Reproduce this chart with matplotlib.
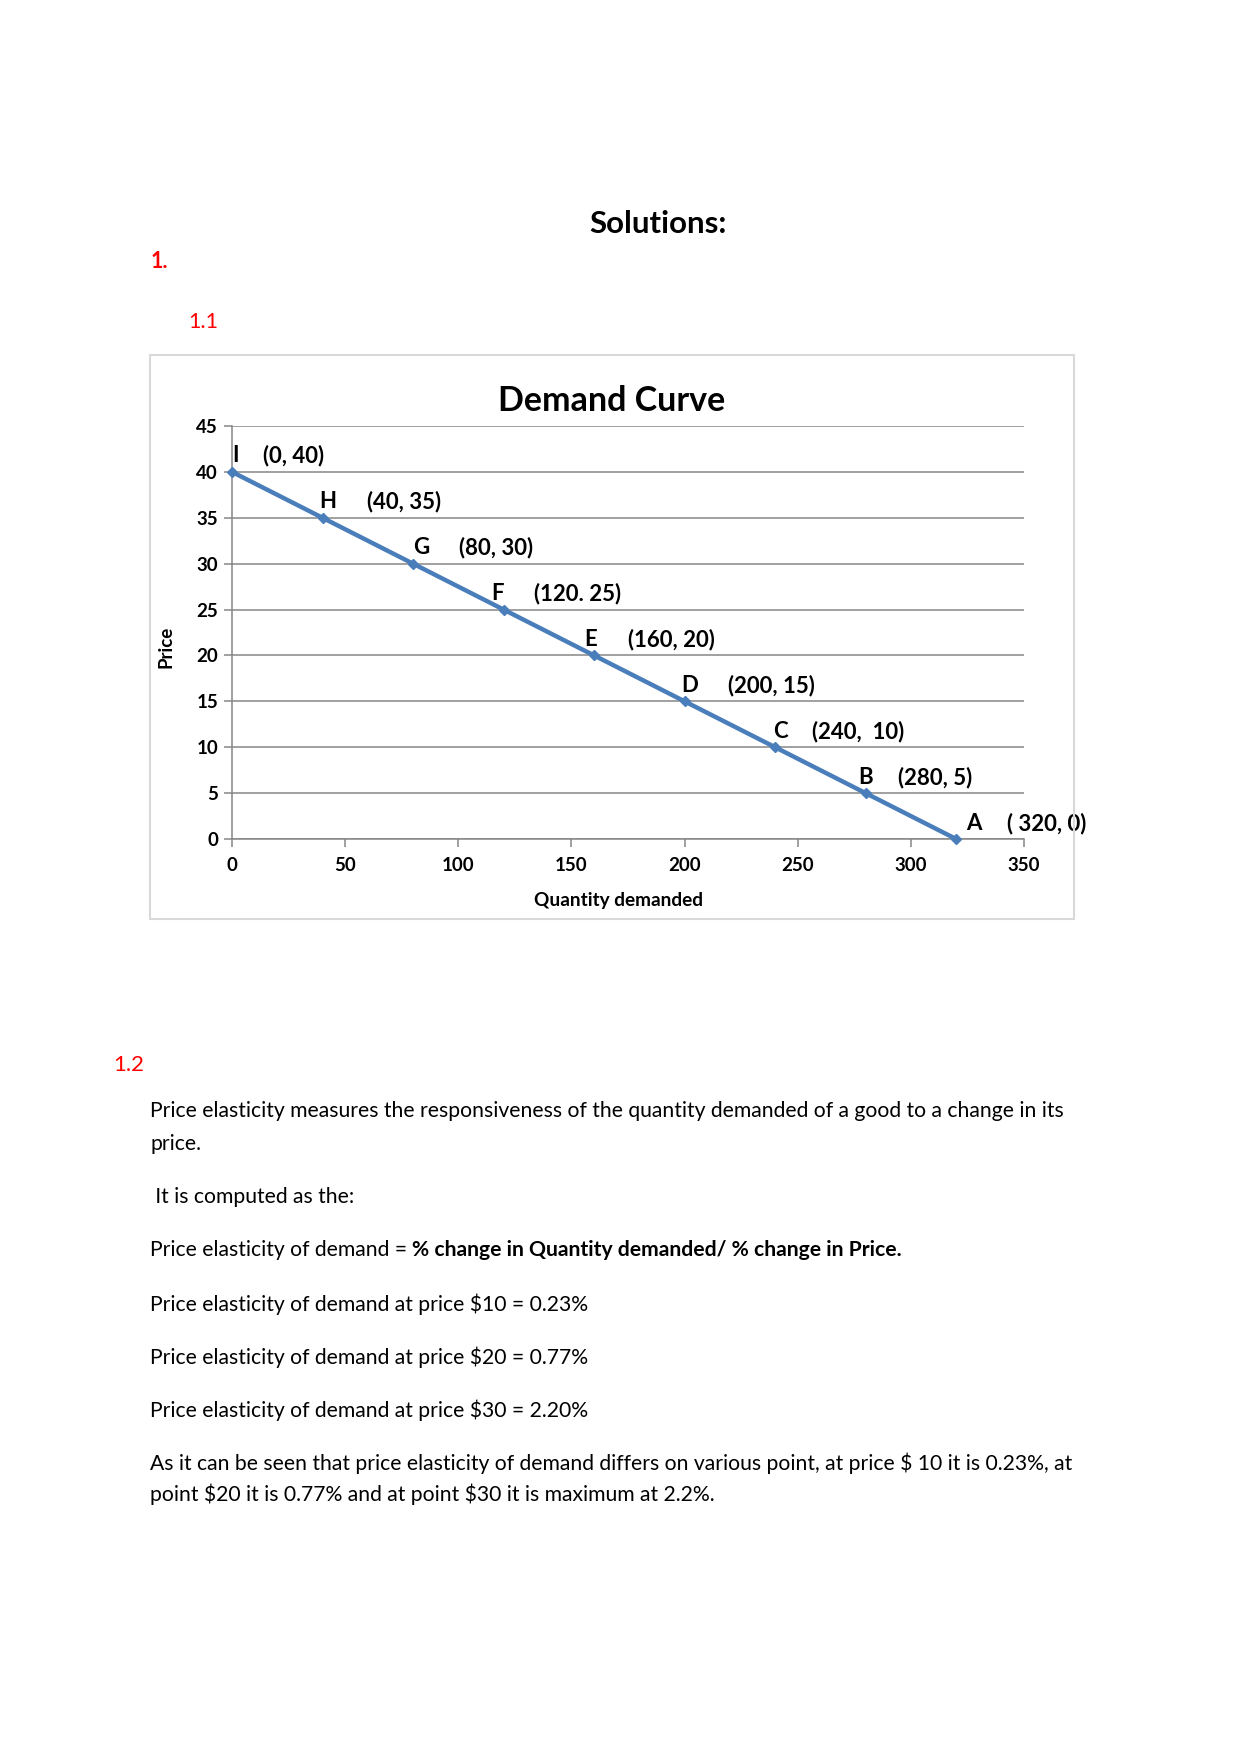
import matplotlib.pyplot as plt
from matplotlib.patches import Rectangle

plt.rcParams['font.family'] = ['Lato', 'DejaVu Sans']
plt.rcParams['text.parse_math'] = False

# demand schedule
quantity = [0, 40, 80, 120, 160, 200, 240, 280, 320]
price = [40, 35, 30, 25, 20, 15, 10, 5, 0]
point_names = ['I', 'H', 'G', 'F', 'E', 'D', 'C', 'B', 'A']
point_texts = ['(0, 40)', '(40, 35)', '(80, 30)', '(120. 25)', '(160, 20)',
               '(200, 15)', '(240,  10)', '(280, 5)', '( 320, 0)']
x_ticks = [0, 50, 100, 150, 200, 250, 300, 350]
y_ticks = [0, 5, 10, 15, 20, 25, 30, 35, 40, 45]

body_lines = [
    'Price elasticity measures the responsiveness of the quantity demanded of a good to a change in its',
    'price.',
]
computed_line = ' It is computed as the:'
formula_plain = 'Price elasticity of demand = '
formula_bold = '% change in Quantity demanded/ % change in Price.'
elasticity_prices = [10, 20, 30]
elasticity_values = ['0.23%', '0.77%', '2.20%']
closing_lines = [
    'As it can be seen that price elasticity of demand differs on various point, at price $ 10 it is 0.23%, at',
    'point $20 it is 0.77% and at point $30 it is maximum at 2.2%.',
]

# label placement (points, relative to each marker)
letter_dx = [2.4, 4, 5.6, -4, -2.4, 4, 4, 0, 12.9]
text_dx = [22.6, 32.2, 33, 21.8, 24.2, 31.4, 26.6, 23.4, 36.3]
label_dy = 11.5

W, H = 1241, 1754
fig = plt.figure(figsize=(W / 100, H / 100), dpi=100)
fig.patch.set_facecolor('white')

def fx(px):
    return px / W

def fy(py):
    return 1 - py / H

# page text above chart
fig.text(fx(658), fy(224), 'Solutions:', fontsize=22.5, fontweight='bold', ha='center', va='center')
fig.text(fx(151), fy(262), '1.', fontsize=15.5, fontweight='bold', color='#ff0000', va='center')
fig.text(fx(188), fy(322), '1.1', fontsize=15.5, color='#ff0000', va='center')

# chart frame
fig.patches.append(Rectangle((fx(150), fy(919)), 924 / W, 564 / H, transform=fig.transFigure,
                             fill=False, edgecolor='#d9d9d9', linewidth=1.5))

ax = fig.add_axes([fx(232), fy(839), (1024 - 232) / W, (839 - 426) / H])
ax.set_xlim(0, 350)
ax.set_ylim(0, 45)
ax.set_xticks(x_ticks)
ax.set_yticks(y_ticks)
ax.grid(axis='y', color='#868686', linewidth=1.1)
ax.set_axisbelow(True)
for s in ['top', 'right']:
    ax.spines[s].set_visible(False)
for s in ['left', 'bottom']:
    ax.spines[s].set_color('#868686')
    ax.spines[s].set_linewidth(1.1)
ax.tick_params(axis='both', direction='out', length=6, color='#868686', labelsize=13.5, width=1.1)
ax.tick_params(axis='y', pad=4)
ax.tick_params(axis='x', pad=7)
for lab in ax.get_xticklabels() + ax.get_yticklabels():
    lab.set_fontweight('bold')

ax.plot(quantity, price, color='#4a7ebb', linewidth=3.2, marker='D', markersize=5.5,
        markerfacecolor='#4a7ebb', markeredgecolor='#4a7ebb', clip_on=False, zorder=3)

for i, (q, p) in enumerate(zip(quantity, price)):
    ax.annotate(point_names[i], (q, p), xytext=(letter_dx[i], label_dy), textcoords='offset points',
                ha='center', va='center', fontsize=16, fontweight='bold', annotation_clip=False)
    ax.annotate(point_texts[i], (q, p), xytext=(text_dx[i], label_dy), textcoords='offset points',
                ha='left', va='center', fontsize=16, fontweight='bold', annotation_clip=False)

fig.text(fx(612), fy(401), 'Demand Curve', fontsize=24.5, fontweight='bold', ha='center', va='center')
fig.text(fx(166), fy(647), 'Price', fontsize=13.5, fontweight='bold', rotation=90, ha='center', va='center')
fig.text(fx(618), fy(900), 'Quantity demanded', fontsize=13.7, fontweight='bold', ha='center', va='center')

# section 1.2 text
fs = 15.2
fig.text(fx(113), fy(1065), '1.2', fontsize=16, color='#ff0000', va='center')
fig.text(fx(150), fy(1111), body_lines[0], fontsize=fs, va='center')
fig.text(fx(150), fy(1144), body_lines[1], fontsize=fs, va='center')
fig.text(fx(150), fy(1197), computed_line, fontsize=fs, va='center')
t = fig.text(fx(150), fy(1250), formula_plain, fontsize=fs, va='center')
fig.canvas.draw()
bb = t.get_window_extent()
fig.text(bb.x1 / W, fy(1250), formula_bold, fontsize=fs, fontweight='bold', va='center')
for i, (p, v) in enumerate(zip(elasticity_prices, elasticity_values)):
    fig.text(fx(150), fy(1304 + 53 * i), f'Price elasticity of demand at price ${p} = {v}',
             fontsize=fs, va='center')
fig.text(fx(150), fy(1463), closing_lines[0], fontsize=fs, va='center')
fig.text(fx(150), fy(1494), closing_lines[1], fontsize=fs, va='center')

fig.savefig('out.png', dpi=100, facecolor='white')
